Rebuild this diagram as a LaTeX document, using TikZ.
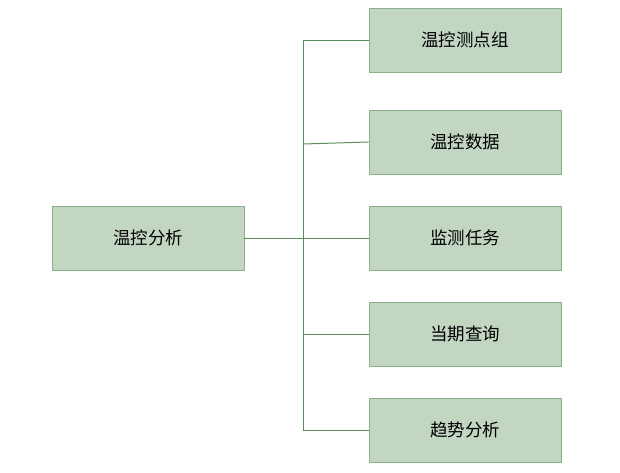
\documentclass[tikz,border=0pt]{standalone}
\usepackage{fontspec}
\setmainfont{Noto Sans CJK SC}
\begin{document}
\begin{tikzpicture}[x=1pt,y=-1pt,
  box/.style={draw={rgb,255:red,140;green,175;blue,140},line width=0.9pt,fill={rgb,255:red,194;green,214;blue,194},minimum width=192pt,minimum height=64pt,inner sep=0pt,font=\fontsize{17.5}{20}\selectfont},
  conn/.style={draw={rgb,255:red,90;green,140;blue,90},line width=1pt}]
\useasboundingbox (0,0) rectangle (620,472);
\node[box] (a) at (148,238) {温控分析};
\node[box] (b1) at (465,40) {温控测点组};
\node[box] (b2) at (465,142) {温控数据};
\node[box] (b3) at (465,238) {监测任务};
\node[box] (b4) at (465,334) {当期查询};
\node[box] (b5) at (465,430) {趋势分析};
\coordinate (t1) at (303,40);
\coordinate (t5) at (303,430);
\coordinate (tm) at (303,238);
\draw[conn] (t1) -- (t5);
\draw[conn] (a.east) -- (tm);
\draw[conn] (t1) -- (b1.west);
\draw[conn] (303,144) -- (b2.west);
\draw[conn] (tm) -- (b3.west);
\draw[conn] (303,334) -- (b4.west);
\draw[conn] (t5) -- (b5.west);
\end{tikzpicture}
\end{document}
